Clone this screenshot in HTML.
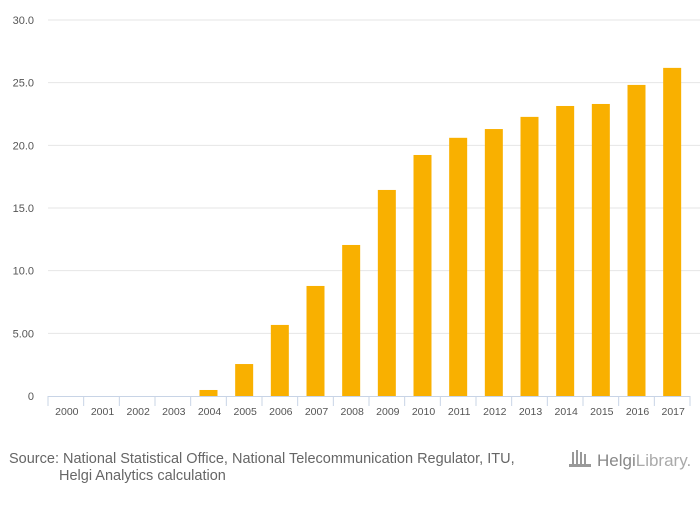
<!DOCTYPE html>
<html><head><meta charset="utf-8"><style>
body{margin:0;background:#fff;width:700px;height:500px;overflow:hidden;font-family:"Liberation Sans",sans-serif}
svg text{font-family:"Liberation Sans",sans-serif}
</style></head><body>
<svg id="chart" width="700" height="500" xmlns="http://www.w3.org/2000/svg">
<g id="grid"></g>
<g id="yaxis"></g>
<g id="bars"></g>
<g id="xaxis"></g>
<text x="9" y="463" font-size="14.5" fill="#666">Source: National Statistical Office, National Telecommunication Regulator, ITU,</text>
<text x="59" y="480" font-size="14.5" fill="#666">Helgi Analytics calculation</text>
<g>
<g fill="#999"><rect x="572" y="452" width="2" height="14"/><rect x="576" y="450" width="2" height="16"/><rect x="580" y="452" width="2" height="14"/><rect x="584" y="454" width="2" height="12"/><rect x="569" y="464" width="22" height="3"/></g>
<text x="597" y="466" font-size="17" fill="#888" font-family="Liberation Serif, serif">Helgi<tspan fill="#aaa">Library.</tspan></text>
</g>
</svg>
<script>
const categories=["2000","2001","2002","2003","2004","2005","2006","2007","2008","2009","2010","2011","2012","2013","2014","2015","2016","2017"];
const values=[0,0,0,0,0.48,2.55,5.67,8.78,12.05,16.44,19.23,20.6,21.3,22.27,23.14,23.3,24.82,26.18];
const yTicks=[0,5,10,15,20,25,30];
const yTickLabels=["0","5.00","10.0","15.0","20.0","25.0","30.0"];
const NS="http://www.w3.org/2000/svg";
const x0=48,x1=690,yTop=20,yBot=396,yMax=30;
const bw=(x1-x0)/categories.length;
const y=v=>yBot-(v/yMax)*(yBot-yTop);
const xc=i=>x0+bw*(i+0.5);
function mk(t,a,p){const e=document.createElementNS(NS,t);for(const k in a)e.setAttribute(k,a[k]);p.appendChild(e);return e;}
const grid=document.getElementById('grid'),ya=document.getElementById('yaxis'),bars=document.getElementById('bars'),xa=document.getElementById('xaxis');
yTicks.forEach((t,i)=>{
 if(t>0){const l=mk('line',{x1:x0,x2:x1+10,y1:y(t),y2:y(t),stroke:'#e6e6e6','stroke-width':1},grid);
 
 }
 const tx=mk('text',{x:34,y:y(t)+4,'font-size':11,fill:'#555','text-anchor':'end'},ya);
 tx.textContent=yTickLabels[i];
 
 
});
values.forEach((v,i)=>{
 const r=mk('rect',{x:xc(i)-9,y:y(v),width:18,height:yBot-y(v),fill:'#f9b000'},bars);
 
 
});
const al=mk('line',{x1:x0,x2:x1,y1:yBot+0.5,y2:yBot+0.5,stroke:'#c8d4e6','stroke-width':1},xa);


for(let i=0;i<=categories.length;i++){
 const tk=mk('line',{x1:x0+bw*i,x2:x0+bw*i,y1:yBot,y2:yBot+10,stroke:'#c8d4e6','stroke-width':1},xa);
 
 
}
categories.forEach((c,i)=>{
 const tx=mk('text',{x:xc(i)+1,y:yBot+19,'font-size':10.5,fill:'#555','text-anchor':'middle'},xa);
 tx.textContent=c;
 
 
});
</script>
</body></html>
